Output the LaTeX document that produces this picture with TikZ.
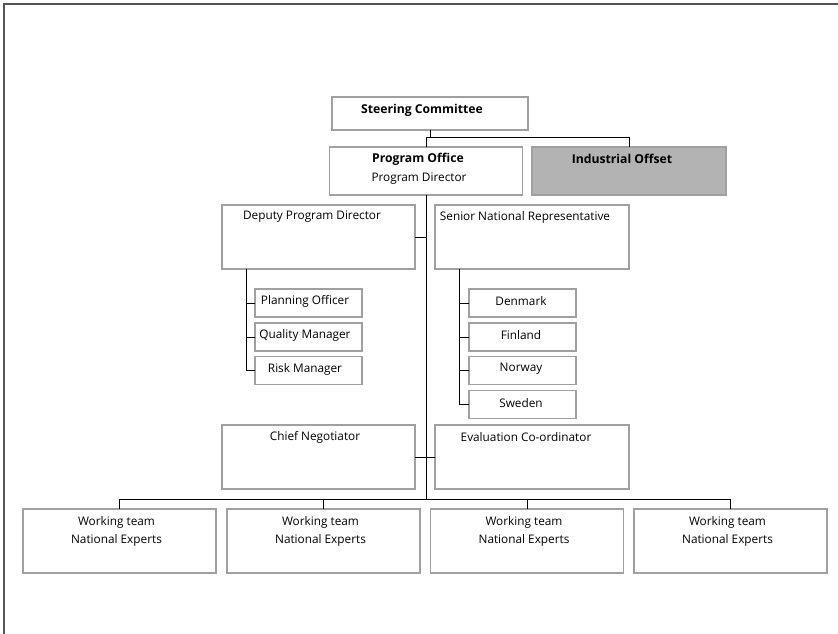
\documentclass[tikz,border=0pt]{standalone}
\usepackage{fontspec}
\setmainfont{Open Sans}
\definecolor{boxgray}{HTML}{A0A0A0}
\definecolor{framegray}{HTML}{555555}
\definecolor{offsetfill}{HTML}{B3B3B3}
\begin{document}
\begin{tikzpicture}[x=1pt,y=-1pt,
  box/.style={draw=boxgray, line width=1.2pt, inner sep=0pt, outer sep=0pt},
  conn/.style={draw=black, line width=1pt},
  txt/.style={font=\fontsize{11.8}{13}\selectfont, inner sep=0pt, anchor=center},
  btxt/.style={font=\fontsize{12.2}{13}\selectfont\bfseries, inner sep=0pt, anchor=center}]
\useasboundingbox (0,0) rectangle (838,633);
\draw[framegray, line width=2pt] (3.5,640) -- (3.5,3.5) -- (845,3.5);

% boxes
\node[box, minimum width=196pt, minimum height=33pt] (sc) at (430,113.5) {};
\node[box, minimum width=193pt, minimum height=48pt] (po) at (426,171) {};
\node[box, fill=offsetfill, minimum width=194pt, minimum height=48pt] (io) at (629,171) {};
\node[box, minimum width=193pt, minimum height=64pt] (dpd) at (318.5,237) {};
\node[box, minimum width=194pt, minimum height=64pt] (snr) at (532,237) {};
\node[box, minimum width=107pt, minimum height=28pt] (plan) at (308.5,303) {};
\node[box, minimum width=107pt, minimum height=28pt] (qual) at (308.5,337) {};
\node[box, minimum width=107pt, minimum height=28pt] (risk) at (308.5,370.5) {};
\node[box, minimum width=107pt, minimum height=28pt] (den) at (522.5,303) {};
\node[box, minimum width=107pt, minimum height=28pt] (fin) at (522.5,337) {};
\node[box, minimum width=107pt, minimum height=28pt] (nor) at (522.5,370.5) {};
\node[box, minimum width=107pt, minimum height=28pt] (swe) at (522.5,404.5) {};
\node[box, minimum width=193pt, minimum height=64pt] (chief) at (318.5,457) {};
\node[box, minimum width=194pt, minimum height=64pt] (eval) at (532,457) {};
\node[box, minimum width=193pt, minimum height=64pt] (wt1) at (119.5,541) {};
\node[box, minimum width=193pt, minimum height=64pt] (wt2) at (323.5,541) {};
\node[box, minimum width=193pt, minimum height=64pt] (wt3) at (527,541) {};
\node[box, minimum width=193pt, minimum height=64pt] (wt4) at (730.5,541) {};

% texts
\node[btxt] (sct) at (422,110) {Steering Committee};
\node[btxt] (pot) at (418,159) {Program Office};
\node[txt] (pdt) at (419,179) {Program Director};
\node[btxt] (iot) at (622,159) {Industrial Offset};
\node[txt] (dpdt) at (312,217) {Deputy Program Director};
\node[txt] (snrt) at (525,217) {Senior National Representative};
\node[txt] (plant) at (305,301) {Planning Officer};
\node[txt] (qualt) at (305,335) {Quality Manager};
\node[txt] (riskt) at (305,369) {Risk Manager};
\node[txt] (dent) at (521,301) {Denmark};
\node[txt] (fint) at (521,335) {Finland};
\node[txt] (nort) at (521,369) {Norway};
\node[txt] (swet) at (521,403) {Sweden};
\node[txt] (chieft) at (315,437) {Chief Negotiator};
\node[txt] (evalt) at (526,437) {Evaluation Co-ordinator};
\foreach \w/\x in {wt1/116.5, wt2/320.5, wt3/524, wt4/727.5}{
  \node[txt, align=center] (\w t) at (\x,531) {Working team\\[5pt]National Experts};
}

% connectors
\coordinate (bus1) at (0,137);
\coordinate (bus2) at (0,499);
\draw[conn] (sc.south) -- (sc.south |- bus1);
\draw[conn] (po.north) |- (io.north |- bus1) -- (io.north);
\draw[conn] (po.south) -- (po.south |- bus2);
\draw[conn] (dpd.east) -- (dpd.east -| po.south);
\draw[conn] (chief.east) -- (eval.west);
\draw[conn] (wt1.north) |- (wt4.north |- bus2) -- (wt4.north);
\draw[conn] (wt2.north) -- (wt2.north |- bus2);
\draw[conn] (wt3.north) -- (wt3.north |- bus2);
% brackets
\draw[conn] ([xshift=24pt]dpd.south west) |- (risk.west);
\draw[conn] (plan.west) -- ++(-9,0);
\draw[conn] (qual.west) -- ++(-9,0);
\draw[conn] ([xshift=24pt]snr.south west) |- (swe.west);
\draw[conn] (den.west) -- ++(-10,0);
\draw[conn] (fin.west) -- ++(-10,0);
\draw[conn] (nor.west) -- ++(-10,0);
\end{tikzpicture}
\end{document}
